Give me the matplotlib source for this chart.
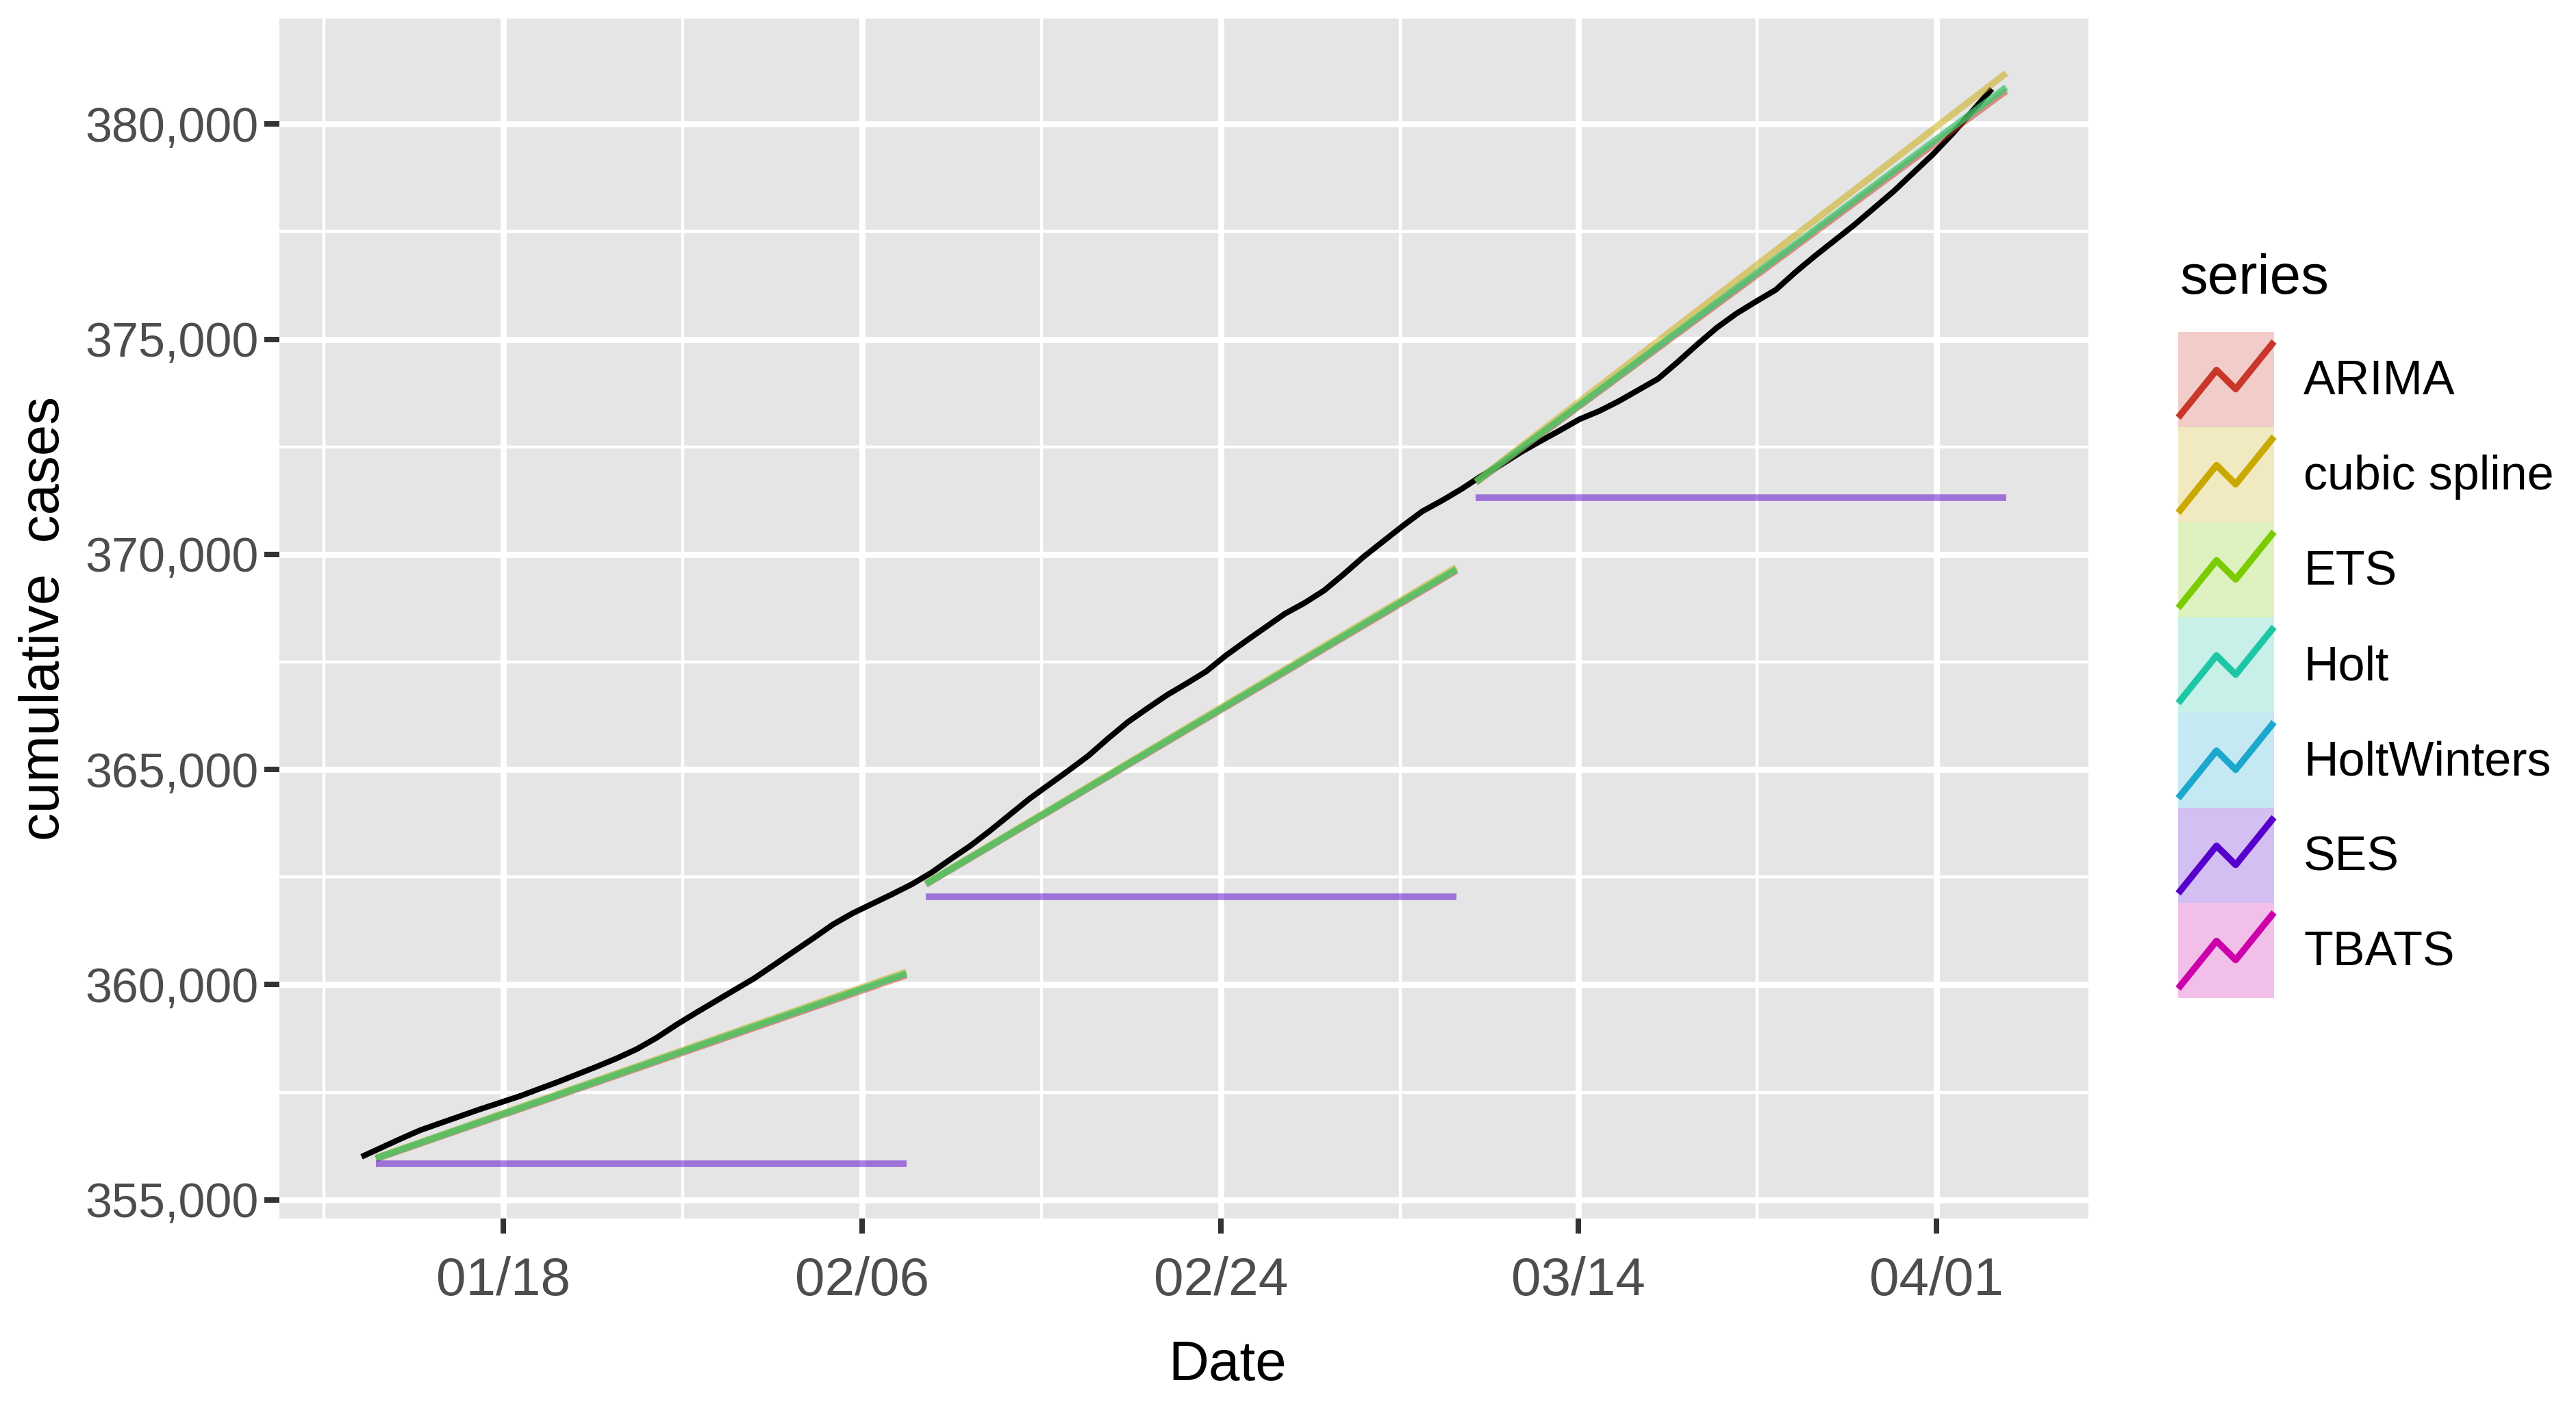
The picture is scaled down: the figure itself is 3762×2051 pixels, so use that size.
import numpy as np
import matplotlib.pyplot as plt
from matplotlib.patches import Rectangle
from matplotlib.ticker import FuncFormatter

plt.rcParams['font.family'] = ['Liberation Sans', 'DejaVu Sans']

# observed cumulative cases, one value per day (day 0 = first observation)
actual_day = np.arange(84) + 0.27
actual_cases = [
    356000, 356210, 356420, 356620, 356780, 356940, 357100, 357250, 357400, 357570,
    357740, 357920, 358100, 358290, 358500, 358760, 359060, 359340, 359610, 359880,
    360150, 360460, 360770, 361080, 361400, 361660, 361880, 362100, 362330, 362600,
    362920, 363230, 363580, 363950, 364320, 364650, 364980, 365320, 365720, 366100,
    366420, 366730, 367000, 367280, 367650, 367980, 368300, 368620, 368870, 369160,
    369540, 369940, 370300, 370660, 371000, 371250, 371520, 371820, 372080, 372370,
    372630, 372880, 373140, 373330, 373560, 373820, 374080, 374470, 374880, 375270,
    375600, 375880, 376150, 376560, 376940, 377300, 377660, 378050, 378440, 378870,
    379300, 379780, 380300, 380820,
]

# three 28-day forecast windows
seg_start = [1, 29, 57]
seg_end = [28, 56, 84]

arima_start = [355950, 362330, 371670]
arima_end = [360220, 369620, 380774]
spline_start = [355975, 362355, 371700]
spline_end = [360300, 369700, 381188]
ets_start = [355965, 362342, 371686]
ets_end = [360260, 369654, 380854]
holt_start = [355965, 362342, 371686]
holt_end = [360260, 369654, 380854]
ses_level = [355833, 362036, 371317]

series_names = ['ARIMA', 'cubic spline', 'ETS', 'Holt', 'HoltWinters', 'SES', 'TBATS']
series_colors = ['#C8372A', '#C9A800', '#7ACC00', '#1DC7A5', '#1BA8CC', '#5600CC', '#CC00AA']

tick_days = [7.49, 25.75, 44.01, 62.2, 80.46]
tick_labels = ['01/18', '02/06', '02/24', '03/14', '04/01']
y_ticks = [355000, 360000, 365000, 370000, 375000, 380000]

W, H, DPI = 3762, 2051, 240
fig = plt.figure(figsize=(W / DPI, H / DPI), dpi=DPI)
ax = fig.add_axes([408 / W, 1 - 1780 / H, (3050 - 408) / W, (1780 - 27) / H])
ax.set_facecolor('#E5E5E5')
for s in ax.spines.values():
    s.set_visible(False)

ax.plot(actual_day, actual_cases, color='black', lw=2.5, zorder=3, solid_capstyle='butt')

lines = [
    ('ARIMA', arima_start, arima_end),
    ('cubic spline', spline_start, spline_end),
    ('ETS', ets_start, ets_end),
    ('Holt', holt_start, holt_end),
    ('SES', ses_level, ses_level),
]
colors = dict(zip(series_names, series_colors))
for name, a, b in lines:
    for k in range(3):
        ax.plot([seg_start[k], seg_end[k]], [a[k], b[k]], color=colors[name],
                alpha=0.5, lw=2.9, solid_capstyle='butt', zorder=4)

# ggplot-like 5% expansion
xmin, xmax = actual_day[0], seg_end[-1]
all_y = actual_cases + arima_end + spline_end + ses_level + arima_start
ymin, ymax = min(all_y), max(all_y)
ax.set_xlim(xmin - 0.05 * (xmax - xmin), xmax + 0.05 * (xmax - xmin))
ax.set_ylim(ymin - 0.05 * (ymax - ymin), ymax + 0.05 * (ymax - ymin))

ax.set_xticks(tick_days)
ax.set_xticklabels(tick_labels)
step = tick_days[1] - tick_days[0]
ax.set_xticks([tick_days[0] - step / 2] + [t + step / 2 for t in tick_days[:-1]], minor=True)
ax.set_yticks(y_ticks)
ax.set_yticks([v + 2500 for v in y_ticks[:-1]], minor=True)
ax.yaxis.set_major_formatter(FuncFormatter(lambda v, p: f'{v:,.0f}'))

ax.grid(which='major', color='white', lw=2.66)
ax.grid(which='minor', color='white', lw=1.33)
ax.set_axisbelow(True)
ax.tick_params(which='major', length=6.5, width=2.4, color='#333333',
               labelsize=21, labelcolor='#4D4D4D')
ax.tick_params(which='minor', length=0)
ax.tick_params(axis='x', pad=10, labelsize=23.5)
ax.tick_params(axis='y', pad=2.5)

ax.set_xlabel('Date', fontsize=24.5, va='center')
ax.xaxis.set_label_coords(0.524, -0.1225)
ax.set_ylabel('cumulative  cases', fontsize=24.5, va='center', ha='center')
ax.yaxis.set_label_coords(-0.1298, 0.5)

# legend drawn in pixel coordinates
leg = fig.add_axes([0, 0, 1, 1])
leg.set_xlim(0, W)
leg.set_ylim(H, 0)
leg.axis('off')
leg.patch.set_alpha(0)
leg.text(3184, 408, 'series', fontsize=24.5, va='center', ha='left')
kx, kw, ky, kh = 3181, 140, 485, 139
zx = np.array([0, 0.4, 0.6, 1.0])
zy = np.array([0.1, 0.6, 0.4, 0.9])
for i, (name, c) in enumerate(zip(series_names, series_colors)):
    top = ky + i * kh
    leg.add_patch(Rectangle((kx, top), kw, kh, facecolor=c, alpha=0.25, edgecolor='none'))
    leg.plot(kx + zx * kw, top + kh - zy * kh, color=c, lw=2.9, solid_capstyle='butt')
    leg.text(3364, top + kh / 2 + 4, name, fontsize=21, va='center', ha='left')

fig.savefig('out.png', dpi=DPI)
